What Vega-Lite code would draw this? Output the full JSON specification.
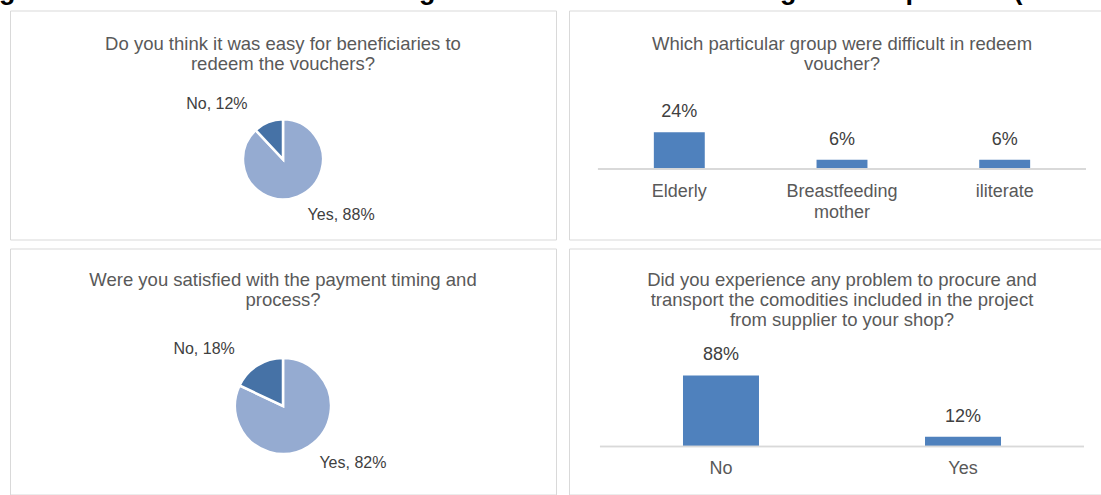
{
  "$schema": "https://vega.github.io/schema/vega-lite/v6.json",
  "padding": {"left": -1, "top": -23.5, "right": 0, "bottom": 0},
  "background": "white",
  "title": {
    "text": "g the Post Distribution Monitoring of the Cash Voucher through GTMP phase II (Vendors)",
    "anchor": "start", "frame": "group", "dx": -11, "fontSize": 27, "fontWeight": "bold",
    "color": "#000000", "baseline": "alphabetic", "offset": -16
  },
  "datasets": {
    "easy": [
      {"answer": "Yes", "share": 0.88, "label": "Yes, 88%"},
      {"answer": "No", "share": 0.12, "label": "No, 12%"}
    ],
    "groups": [
      {"group": "Elderly", "share": 0.24},
      {"group": "Breastfeeding mother", "share": 0.06},
      {"group": "iliterate", "share": 0.06}
    ],
    "payment": [
      {"answer": "Yes", "share": 0.82, "label": "Yes, 82%"},
      {"answer": "No", "share": 0.18, "label": "No, 18%"}
    ],
    "transport": [
      {"answer": "No", "share": 0.88},
      {"answer": "Yes", "share": 0.12}
    ]
  },
  "config": {
    "font": "Liberation Sans",
    "view": {"stroke": "#d9d9d9", "strokeWidth": 1},
    "title": {"color": "#595959", "fontSize": 18.5, "fontWeight": "normal", "lineHeight": 20}
  },
  "spacing": 7,
  "vconcat": [
    {
      "spacing": 11,
      "hconcat": [
        {
          "width": 546, "height": 229,
          "view": {"stroke": "#d9d9d9", "strokeWidth": 1},
          "title": {"text": ["Do you think it was easy for beneficiaries to", "redeem the vouchers?"], "anchor": "middle", "baseline": "top", "lineHeight": 20, "offset": -63, "frame": "group"},
          "data": {"name": "easy"},
          "encoding": {
            "theta": {"field": "share", "type": "quantitative", "stack": true},
            "order": {"field": "answer", "sort": "descending"},
            "y": {"datum": 0.35, "type": "quantitative", "scale": {"domain": [0, 1], "nice": false}, "axis": null}
          },
          "layer": [
            {
              "mark": {"type": "arc", "outerRadius": 40, "stroke": "white", "strokeWidth": 2.5},
              "encoding": {
                "color": {"field": "answer", "type": "nominal", "scale": {"domain": ["Yes", "No"], "range": ["#95abd1", "#4672a6"]}, "legend": null}
              }
            },
            {
              "mark": {"type": "text", "radius": 60, "fontSize": 16, "color": "#404040", "baseline": "middle", "align": "center", "dx": {"expr": "datum.answer === 'Yes' ? 36 : -44"}},
              "encoding": {"text": {"field": "label"}}
            }
          ]
        },
        {
          "width": 546, "height": 229,
          "title": {"text": ["Which particular group were difficult in redeem", "voucher?"], "anchor": "middle", "baseline": "top", "lineHeight": 20, "offset": -63, "frame": "group"},
          "data": {"name": "groups"},
          "encoding": {
            "x": {
              "field": "group", "type": "nominal", "sort": null,
              "scale": {"paddingInner": 0, "paddingOuter": 0.178},
              "axis": {
                "title": null, "orient": "bottom", "offset": -70, "domain": false, "ticks": false, "tickSize": 0,
                "labelPadding": 27, "labelAngle": 0, "labelFontSize": 18, "labelColor": "#595959",
                "labelBaseline": "alphabetic", "labelLineHeight": 21, "grid": false,
                "labelExpr": "datum.label == 'Breastfeeding mother' ? ['Breastfeeding', 'mother'] : datum.label"
              }
            },
            "y": {"field": "share", "type": "quantitative", "scale": {"domain": [-0.46, 1.034], "nice": false, "zero": false}, "axis": null}
          },
          "layer": [
            {"mark": {"type": "bar", "width": {"band": 0.313}, "color": "#4f81bd"}},
            {"mark": {"type": "text", "dy": -20, "baseline": "middle", "fontSize": 18, "color": "#404040"}, "encoding": {"text": {"field": "share", "format": ".0%"}}},
            {"mark": {"type": "rule", "color": "#d9d9d9", "strokeWidth": 1.5}, "encoding": {"y": {"datum": 0}, "x": {"datum": "Elderly", "bandPosition": 0}, "x2": {"datum": "iliterate", "bandPosition": 1}}}
          ]
        }
      ]
    },
    {
      "spacing": 11,
      "hconcat": [
        {
          "width": 546, "height": 246,
          "view": {"stroke": "#d9d9d9", "strokeWidth": 1},
          "title": {"text": ["Were you satisfied with the payment timing and", "process?"], "anchor": "middle", "baseline": "top", "lineHeight": 20, "offset": -61, "frame": "group"},
          "data": {"name": "payment"},
          "encoding": {
            "theta": {"field": "share", "type": "quantitative", "stack": true},
            "order": {"field": "answer", "sort": "descending"},
            "y": {"datum": 0.36, "type": "quantitative", "scale": {"domain": [0, 1], "nice": false}, "axis": null}
          },
          "layer": [
            {
              "mark": {"type": "arc", "outerRadius": 48, "stroke": "white", "strokeWidth": 2.5},
              "encoding": {
                "color": {"field": "answer", "type": "nominal", "scale": {"domain": ["Yes", "No"], "range": ["#95abd1", "#4672a6"]}, "legend": null}
              }
            },
            {
              "mark": {"type": "text", "radius": 67, "fontSize": 16, "color": "#404040", "baseline": "middle", "align": "center", "dx": {"expr": "datum.answer === 'Yes' ? 34 : -43"}},
              "encoding": {"text": {"field": "label"}}
            }
          ]
        },
        {
          "width": 546, "height": 246,
          "title": {"text": ["Did you experience any problem to procure and", "transport the comodities included in the project", "from supplier to your shop?"], "anchor": "middle", "baseline": "top", "lineHeight": 20, "offset": -81, "frame": "group"},
          "data": {"name": "transport"},
          "encoding": {
            "x": {
              "field": "answer", "type": "nominal", "sort": null,
              "scale": {"paddingInner": 0, "paddingOuter": 0.128},
              "axis": {
                "title": null, "orient": "bottom", "offset": -48, "domain": false, "ticks": false, "tickSize": 0,
                "labelPadding": 27, "labelAngle": 0, "labelFontSize": 18, "labelColor": "#595959",
                "labelBaseline": "alphabetic", "grid": false
              }
            },
            "y": {"field": "share", "type": "quantitative", "scale": {"domain": [-0.595, 2.4535], "nice": false, "zero": false}, "axis": null}
          },
          "layer": [
            {"mark": {"type": "bar", "width": {"band": 0.314}, "color": "#4f81bd"}},
            {"mark": {"type": "text", "dy": -20, "baseline": "middle", "fontSize": 18, "color": "#404040"}, "encoding": {"text": {"field": "share", "format": ".0%"}}},
            {"mark": {"type": "rule", "color": "#d9d9d9", "strokeWidth": 1.5}, "encoding": {"y": {"datum": 0}, "x": {"datum": "No", "bandPosition": 0}, "x2": {"datum": "Yes", "bandPosition": 1}}}
          ]
        }
      ]
    }
  ]
}
